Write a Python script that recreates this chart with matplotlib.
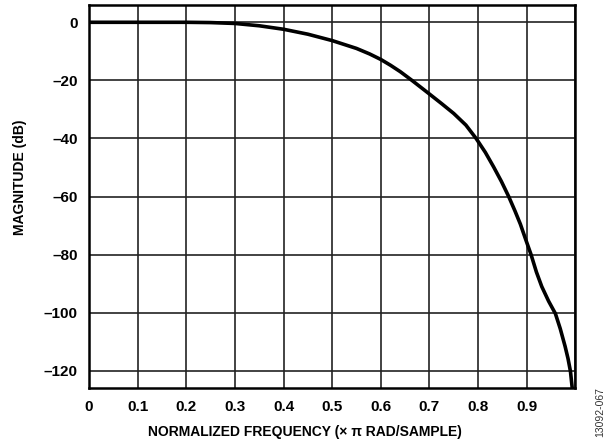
import matplotlib.pyplot as plt

# normalized frequency (x pi rad/sample) and magnitude (dB)
freq = [0.0, 0.1, 0.2, 0.25, 0.3, 0.35, 0.4, 0.45, 0.5, 0.55, 0.577, 0.6,
        0.62, 0.64, 0.664, 0.7, 0.725, 0.75, 0.775, 0.796, 0.815, 0.832, 0.848,
        0.863, 0.876, 0.887, 0.898, 0.909, 0.92, 0.931, 0.945, 0.959, 0.969,
        0.979, 0.985, 0.99, 0.994]
mag_db = [0.0, 0.0, 0.0, -0.1, -0.4, -1.2, -2.4, -4.1, -6.3, -9.0, -10.9, -12.8,
          -14.8, -17.0, -20.0, -24.7, -28.0, -31.4, -35.4, -40.0, -44.8, -49.8,
          -54.8, -60.0, -65.0, -69.5, -74.8, -80.0, -86.0, -91.0, -96.0, -100.3,
          -105.5, -111.6, -115.8, -120.2, -126.5]

xticklabels = ["0", "0.1", "0.2", "0.3", "0.4", "0.5", "0.6", "0.7", "0.8", "0.9", ""]
yticks = [0, -20, -40, -60, -80, -100, -120]
yticklabels = ["0", "\u201320", "\u201340", "\u201360", "\u201380", "\u2013100", "\u2013120"]

plt.rcParams['font.family'] = ['Liberation Sans', 'DejaVu Sans']

fig = plt.figure(figsize=(6.14, 4.42), dpi=100)
ax = fig.add_axes([0.145, 0.123, 0.792, 0.866])

ax.plot(freq, mag_db, color='black', linewidth=2.6, solid_joinstyle='round',
        solid_capstyle='butt', zorder=3)

ax.set_xlim(0, 1.0)
ax.set_ylim(-125.8, 6)
ax.set_xticks([i / 10 for i in range(11)])
ax.set_xticklabels(xticklabels)
ax.set_yticks(yticks)
ax.set_yticklabels(yticklabels)

ax.grid(True, color='#222222', linewidth=1.2)
ax.tick_params(length=0, labelsize=11)
ax.tick_params(axis='x', pad=9)
ax.tick_params(axis='y', pad=8)
for lab in ax.get_xticklabels() + ax.get_yticklabels():
    lab.set_fontweight('bold')
for sp in ax.spines.values():
    sp.set_linewidth(1.8)

ax.set_xlabel("NORMALIZED FREQUENCY (\u00d7 \u03c0 RAD/SAMPLE)", fontsize=10,
              fontweight='bold')
ax.set_ylabel("MAGNITUDE (dB)", fontsize=10, fontweight='bold')
ax.xaxis.set_label_coords(0.444, -0.097)
ax.yaxis.set_label_coords(-0.128, 0.55)

fig.text(0.977, 0.011, "13092-067", rotation=90, fontsize=7.5, color='#333333',
         ha='center', va='bottom')

fig.savefig("out.png", dpi=100)
